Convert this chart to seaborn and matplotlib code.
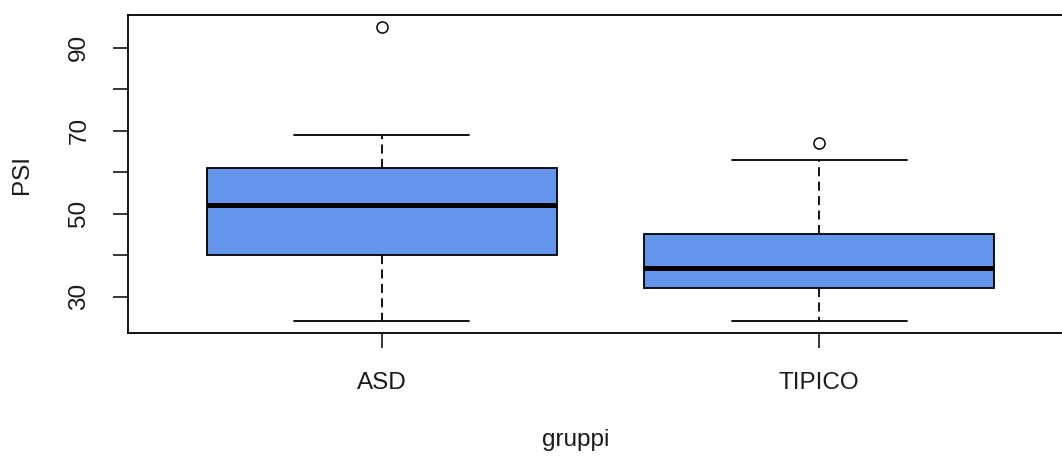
import matplotlib
matplotlib.use("Agg")
import matplotlib.pyplot as plt
import seaborn as sns
import pandas as pd

# Five-number summaries per group (PSI scores) and the points beyond the whiskers
groups = ["ASD", "TIPICO"]
whisker_low = [24, 24]
q1 = [40, 32]
median = [52, 37]
q3 = [61, 45]
whisker_high = [69, 63]
outliers = [95, 67]

y_ticks = [30, 40, 50, 60, 70, 80, 90]
y_ticklabels = ["30", "", "50", "", "70", "", "90"]

# Observations whose quartiles and whisker ends reproduce the summaries above
rows = []
for g, lo, a, m, b, hi, out in zip(groups, whisker_low, q1, median, q3, whisker_high, outliers):
    for v in [lo, a, a, m, m, b, b, hi, out]:
        rows.append({"gruppi": g, "PSI": v})
df = pd.DataFrame(rows)

sns.set_theme(style="white")
plt.rcParams["font.family"] = ["Liberation Sans", "DejaVu Sans"]

fig = plt.figure(figsize=(10.62, 4.58), dpi=100)
ax = fig.add_axes([0.1203, 0.2723, 0.8900, 0.6949])

sns.boxplot(
    data=df, x="gruppi", y="PSI", ax=ax, order=groups,
    color="#6495ED", saturation=1, width=0.8, whis=1.5,
    linewidth=1.3, linecolor="black",
    boxprops=dict(edgecolor="black", linewidth=1.3),
    medianprops=dict(color="black", linewidth=3.6),
    whiskerprops=dict(color="black", linewidth=1.3, linestyle=(0, (5, 3))),
    capprops=dict(color="black", linewidth=1.3),
    flierprops=dict(marker="o", markerfacecolor="white", markeredgecolor="black",
                    markersize=8, markeredgewidth=1.1),
)

ax.set_xlim(-0.58, 1.58)
ax.set_ylim(21.16, 97.84)
ax.set_yticks(y_ticks)
ax.set_yticklabels(y_ticklabels, rotation=90, va="center")

for s in ax.spines.values():
    s.set_visible(True)
    s.set_color("black")
    s.set_linewidth(1.3)

ax.tick_params(axis="both", which="both", direction="out", length=11, width=1.1,
               color="black", labelsize=17.5, labelcolor="#1a1a1a",
               bottom=True, left=True, top=False, right=False)
ax.tick_params(axis="y", pad=16)
ax.tick_params(axis="x", pad=17)

ax.set_xlabel("gruppi", fontsize=17.5, color="#1a1a1a")
ax.set_ylabel("PSI", fontsize=17.5, color="#1a1a1a")
ax.xaxis.set_label_coords(0.4735, -0.300)
ax.yaxis.set_label_coords(-0.100, 0.5)

fig.savefig("out.png", dpi=100, facecolor="white")
